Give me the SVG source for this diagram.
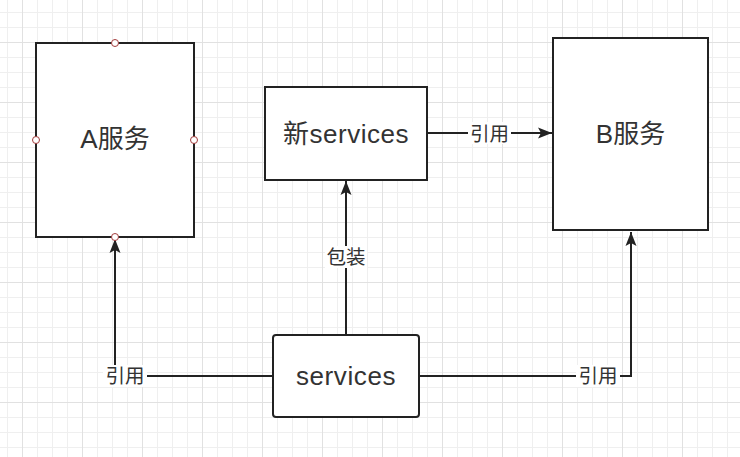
<svg xmlns="http://www.w3.org/2000/svg" width="740" height="457" viewBox="0 0 740 457">
<defs>
<pattern id="grid" x="7" y="12" width="60" height="60" patternUnits="userSpaceOnUse">
<path d="M0.5 0V60M15.5 0V60M30.5 0V60M45.5 0V60M0 0.5H60M0 15.5H60M0 30.5H60M0 45.5H60" stroke="#efefef" stroke-width="1" fill="none"/>
<path d="M15.5 0V60M0 30.5H60" stroke="#e1e1e1" stroke-width="1" fill="none"/>
</pattern>
<marker id="arr" viewBox="0 0 16 12" refX="15" refY="6" markerWidth="16" markerHeight="12" markerUnits="userSpaceOnUse" orient="auto">
<path d="M15 6L1 0.5L4 6L1 11.5Z" fill="#222"/>
</marker>
</defs>
<style>
.box{fill:#fff;stroke:#222;stroke-width:2}
.t{font-family:"Liberation Sans","Noto Sans CJK SC",sans-serif;font-size:26px;fill:#333;text-anchor:middle}
.lbl{font-family:"Liberation Sans","Noto Sans CJK SC",sans-serif;font-size:19.5px;fill:#333;text-anchor:middle}
.bg{fill:#fff}
.ln{fill:none;stroke:#222;stroke-width:2}
.pt{fill:#fff;stroke:#a33b3b;stroke-width:1}
</style>
<rect width="740" height="457" fill="#fff"/>
<rect width="740" height="457" fill="url(#grid)"/>
<g id="connectors">
<path class="ln" d="M346 335V181" marker-end="url(#arr)"/>
<path class="ln" d="M427 133H552" marker-end="url(#arr)"/>
<path class="ln" d="M273 376H115V239" marker-end="url(#arr)"/>
<path class="ln" d="M419 376H631V232" marker-end="url(#arr)"/>
<rect class="bg" x="325" y="246" width="42" height="22"/>
<text class="lbl" x="346" y="264">包装</text>
<rect class="bg" x="468" y="122" width="43" height="22"/>
<text class="lbl" x="489.5" y="140.5">引用</text>
<rect class="bg" x="103" y="365" width="44" height="22"/>
<text class="lbl" x="125" y="383">引用</text>
<rect class="bg" x="576" y="365" width="44" height="22"/>
<text class="lbl" x="598" y="383">引用</text>
</g>
<g id="nodeA">
<rect class="box" x="36" y="43" width="158" height="194"/>
<text class="t" x="115" y="148">A服务</text>
<circle class="pt" cx="115" cy="43" r="3.5"/>
<circle class="pt" cx="36" cy="140" r="3.5"/>
<circle class="pt" cx="194" cy="140" r="3.5"/>
<circle class="pt" cx="115" cy="237" r="3.5"/>
</g>
<g id="nodeNew">
<rect class="box" x="265" y="87" width="162" height="93"/>
<text class="t" x="346" y="143" letter-spacing="0.5">新services</text>
</g>
<g id="nodeB">
<rect class="box" x="553" y="38" width="155" height="192"/>
<text class="t" x="630.5" y="143">B服务</text>
</g>
<g id="nodeServices">
<rect class="box" x="273" y="335" width="146" height="82" rx="3"/>
<text class="t" x="346" y="385" letter-spacing="0.6">services</text>
</g>
</svg>
